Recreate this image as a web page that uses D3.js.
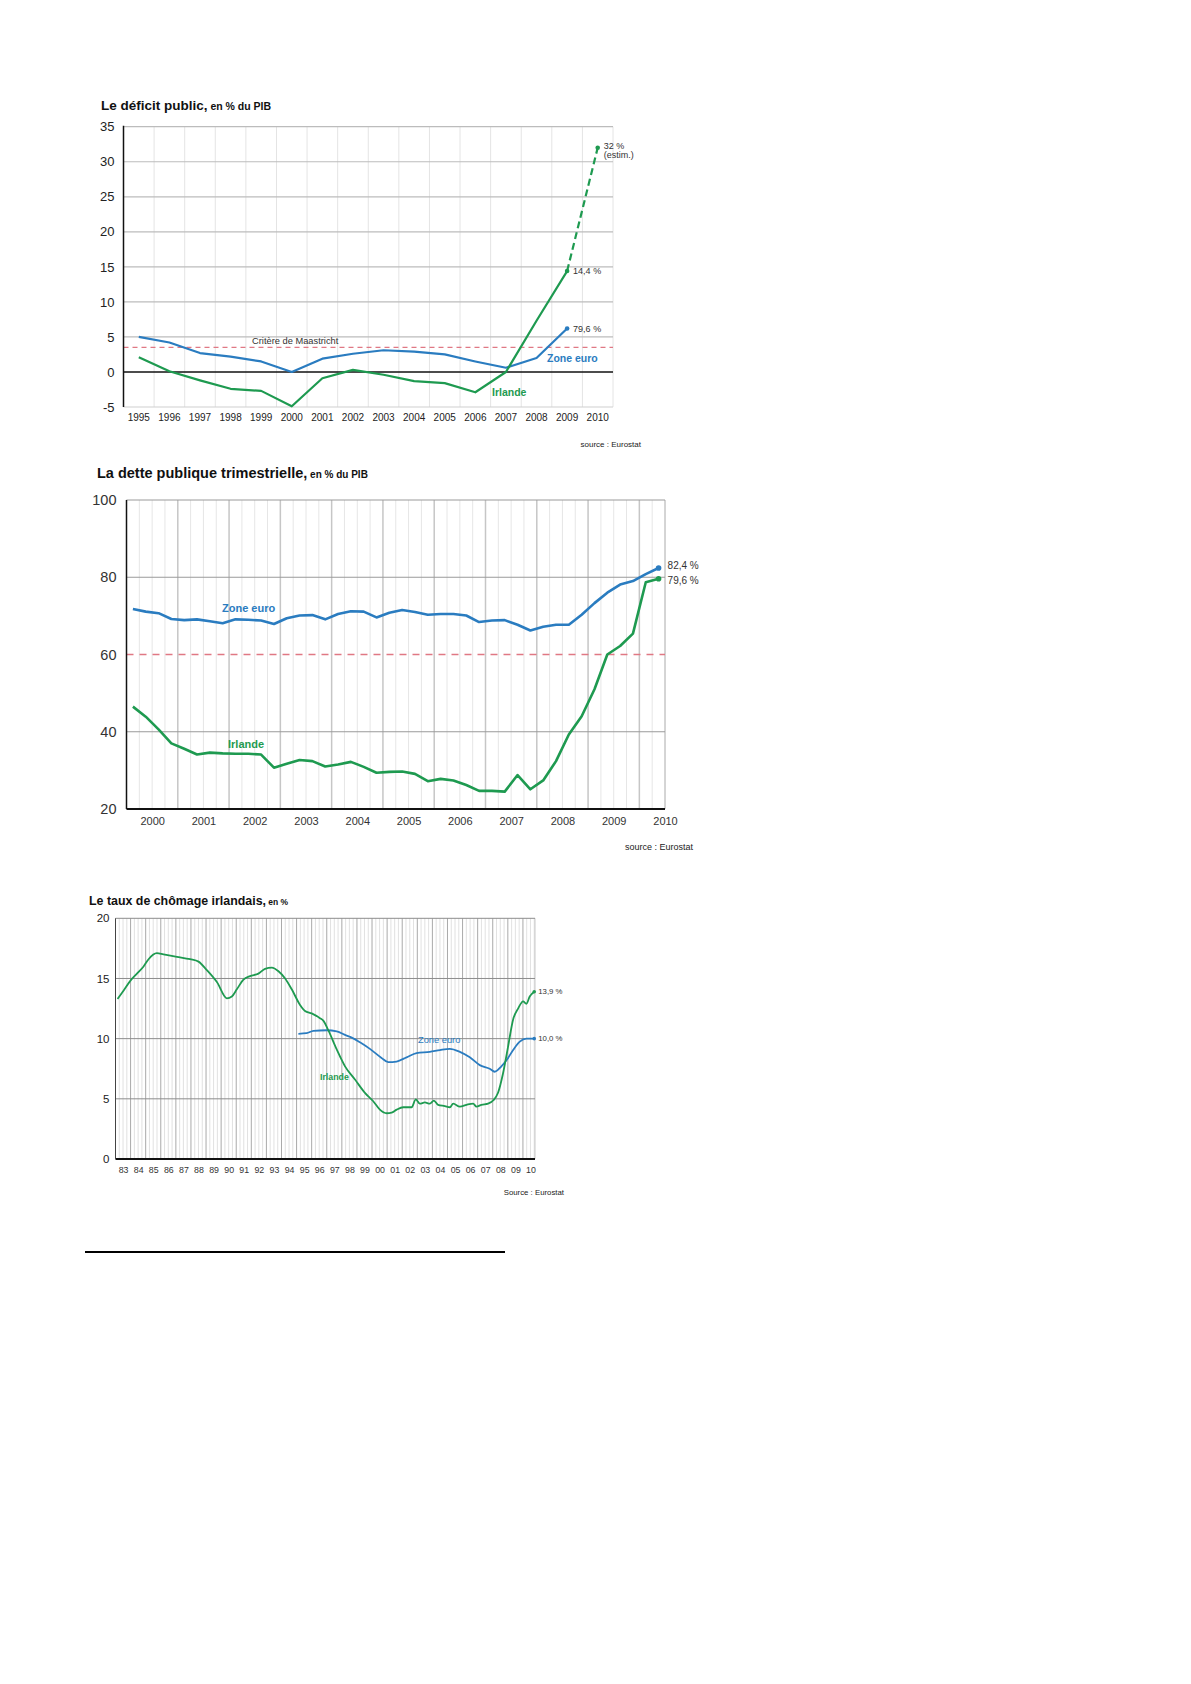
<!DOCTYPE html>
<html><head><meta charset="utf-8">
<script src="https://cdn.jsdelivr.net/npm/d3@7"></script>
<style>body{margin:0;background:#fff;} svg text{font-family:"Liberation Sans",Arial,sans-serif;}</style>
</head><body>
<script>
// ---------- DATA ----------
// Chart 1 : déficit public (% du PIB)
const defYears = [1995,1996,1997,1998,1999,2000,2001,2002,2003,2004,2005,2006,2007,2008,2009,2010];
const defZone  = [5.0,4.2,2.7,2.2,1.5,0.0,1.9,2.6,3.1,2.9,2.5,1.5,0.6,2.0,6.2];          // 1995-2009
const defIrl   = [2.1,0.1,-1.2,-2.4,-2.7,-4.9,-0.9,0.3,-0.4,-1.3,-1.6,-2.9,0.0,7.3,14.4]; // 1995-2009
const defIrlEstim = [[2009,14.4],[2010,32]];
const maastricht = 3.5;
const defYTicks = [-5,0,5,10,15,20,25,30,35];

// Chart 2 : dette publique trimestrielle (% du PIB), 2000T1 - 2010T2
const debtZone = [71.8,71.1,70.7,69.2,68.9,69.1,68.6,68.1,69.1,69.0,
                  68.8,67.9,69.4,70.1,70.2,69.1,70.5,71.2,71.1,69.6,
                  70.8,71.5,71.0,70.3,70.5,70.5,70.1,68.4,68.8,68.9,
                  67.7,66.2,67.2,67.7,67.7,70.3,73.3,76.0,78.1,79.0,
                  80.8,82.4];
const debtIrl  = [46.5,43.9,40.6,37.0,35.6,34.1,34.6,34.4,34.3,34.3,
                  34.1,30.7,31.7,32.7,32.4,31.0,31.5,32.2,30.9,29.4,
                  29.6,29.7,29.1,27.2,27.8,27.4,26.2,24.7,24.7,24.5,
                  28.8,25.1,27.4,32.4,39.3,44.0,51.0,60.0,62.2,65.4,
                  78.7,79.6];
const debtYears = [2000,2001,2002,2003,2004,2005,2006,2007,2008,2009,2010];
const debtYTicks = [20,40,60,80,100];
const debtCriterion = 60;

// Chart 3 : taux de chômage (%), [année décimale, valeur]
const unempIrl = [[1983.14,13.3],[1983.54,14.0],[1983.98,14.8],[1984.42,15.4],[1984.86,16.0],[1985.19,16.6],[1985.74,17.1],[1986.18,17.0],[1987.07,16.8],[1987.95,16.6],[1988.5,16.4],[1989.05,15.7],[1989.72,14.7],[1990.38,13.35],[1990.71,13.5],[1991.04,14.1],[1991.48,14.9],[1991.92,15.2],[1992.47,15.4],[1992.91,15.8],[1993.36,15.9],[1993.8,15.6],[1994.24,15.0],[1994.68,14.1],[1995.23,12.8],[1995.56,12.3],[1996.0,12.1],[1996.55,11.7],[1996.77,11.5],[1997.1,10.7],[1997.66,9.1],[1998.21,7.7],[1998.87,6.6],[1999.53,5.5],[2000.08,4.8],[2000.52,4.1],[2000.97,3.8],[2001.3,3.85],[2001.63,4.1],[2002.07,4.3],[2002.62,4.3],[2002.9,4.95],[2003.17,4.6],[2003.5,4.7],[2003.83,4.6],[2004.1,4.85],[2004.38,4.5],[2004.83,4.4],[2005.16,4.3],[2005.38,4.6],[2005.82,4.35],[2006.26,4.5],[2006.7,4.6],[2006.92,4.35],[2007.25,4.5],[2007.69,4.6],[2008.06,4.9],[2008.35,5.5],[2008.68,7.1],[2009.01,9.3],[2009.35,11.6],[2009.68,12.5],[2010.01,13.1],[2010.23,12.9],[2010.45,13.5],[2010.75,13.9]];
const unempZone = [[1995.12,10.4],[1995.67,10.45],[1996.11,10.65],[1997.0,10.7],[1997.66,10.6],[1998.32,10.25],[1998.55,10.15],[1999.2,9.7],[1999.86,9.15],[2000.63,8.4],[2001.07,8.05],[2001.63,8.1],[2002.29,8.45],[2002.95,8.8],[2003.83,8.9],[2004.5,9.05],[2005.16,9.15],[2005.82,8.9],[2006.48,8.45],[2007.14,7.8],[2007.8,7.5],[2008.13,7.25],[2008.57,7.7],[2008.91,8.2],[2009.35,9.05],[2009.79,9.75],[2010.23,10.0],[2010.75,10.0]];
const unempYears = d3.range(1983, 2011);
const unempYLabels = unempYears.map(y => String(y % 100).padStart(2, "0"));
const unempYTicks = [0,5,10,15,20];

// ---------- STYLE ----------
const GREEN = "#1e9a50", BLUE = "#2a7cc0", RED = "#e07884";

const svg = d3.select("body").append("svg").attr("width",1191).attr("height",1684);

function title(g, x, y, big, small, bs, ss){
  const t = g.append("text").attr("x",x).attr("y",y).attr("font-weight","bold").attr("fill","#111");
  t.append("tspan").attr("font-size",bs).text(big);
  t.append("tspan").attr("font-size",ss).text(" " + small);
}
function hline(g, x0, x1, y, stroke, w, dash){
  const l = g.append("line").attr("x1",x0).attr("x2",x1).attr("y1",y).attr("y2",y)
    .attr("stroke",stroke).attr("stroke-width",w);
  if (dash) l.attr("stroke-dasharray",dash);
  return l;
}
function vline(g, x, y0, y1, stroke, w){
  g.append("line").attr("x1",x).attr("x2",x).attr("y1",y0).attr("y2",y1)
    .attr("stroke",stroke).attr("stroke-width",w);
}
function annotator(g){
  return (tx, ty, s, fs, col, bold, anchor) => g.append("text").attr("x",tx).attr("y",ty)
    .attr("font-size",fs).attr("fill",col).attr("font-weight",bold?"bold":"normal")
    .attr("text-anchor",anchor||"start").text(s);
}
function styleAxisText(sel, fs, col){
  sel.selectAll("text").attr("font-size",fs).attr("fill",col)
    .attr("font-family","Liberation Sans, Arial, sans-serif");
}

// ================= CHART 1 =================
{
  const g = svg.append("g");
  const x = d3.scaleBand().domain(defYears).range([123.5, 613]);
  const y = d3.scaleLinear().domain([-5,35]).range([407,126.7]);
  const cx = yr => x(yr) + x.bandwidth()/2;
  title(g, 101, 110, "Le déficit public,", "en % du PIB", "13.5px", "10.5px");
  defYears.slice(1).forEach(yr => vline(g, x(yr), y(35), y(-5), "#e4e4e4", 1));
  vline(g, x.range()[1], y(35), y(-5), "#e4e4e4", 1);
  defYTicks.forEach(t => {
    if (t === 0) return;
    hline(g, x.range()[0], x.range()[1], y(t), t === -5 ? "#cfcfcf" : "#bcbcbc", 1.2);
  });
  hline(g, x.range()[0], x.range()[1], y(maastricht), RED, 1.3, "5,4");
  hline(g, x.range()[0], x.range()[1], y(0), "#111", 1.4);
  vline(g, x.range()[0], y(35)-1, y(-5), "#111", 1.5);
  const ya = g.append("g").attr("transform",`translate(${x.range()[0]-6},0)`)
    .call(d3.axisLeft(y).tickValues(defYTicks).tickSize(0).tickFormat(d => String(d)));
  ya.select(".domain").remove();
  styleAxisText(ya, "13px", "#222");
  const xa = g.append("g").attr("transform",`translate(0,${y(-5)+4})`)
    .call(d3.axisBottom(x).tickSize(0));
  xa.select(".domain").remove();
  styleAxisText(xa, "10px", "#222");
  const line = d3.line().x(d => cx(d[0])).y(d => y(d[1]));
  g.append("path").attr("d", line(defZone.map((v,i)=>[defYears[i],v])))
    .attr("fill","none").attr("stroke",BLUE).attr("stroke-width",2.2).attr("stroke-linejoin","round");
  g.append("path").attr("d", line(defIrl.map((v,i)=>[defYears[i],v])))
    .attr("fill","none").attr("stroke",GREEN).attr("stroke-width",2.2).attr("stroke-linejoin","round");
  g.append("path").attr("d", line(defIrlEstim))
    .attr("fill","none").attr("stroke",GREEN).attr("stroke-width",2.2).attr("stroke-dasharray","7,4");
  [[2009, defZone[14], BLUE],[2009, defIrl[14], GREEN],[2010, 32, GREEN]].forEach(d =>
    g.append("circle").attr("cx",cx(d[0])).attr("cy",y(d[1])).attr("r",2.3).attr("fill",d[2]));
  const ann = annotator(g);
  ann(cx(2009)+6, y(6.2)+3, "79,6 %", "9px", "#333");
  ann(cx(2009)+6, y(14.4)+3, "14,4 %", "9px", "#333");
  ann(cx(2010)+6, y(32)+1, "32 %", "9px", "#333");
  ann(cx(2010)+6, y(32)+10, "(estim.)", "9px", "#333");
  ann(252, y(maastricht)-3, "Critère de Maastricht", "9.3px", "#333");
  ann(547, y(1.4), "Zone euro", "10.5px", BLUE, true);
  ann(492, y(-3.4), "Irlande", "10.5px", GREEN, true);
  ann(641, 447, "source : Eurostat", "8px", "#222", false, "end");
}

// ================= CHART 2 =================
{
  const g = svg.append("g");
  const x = d3.scaleLinear().domain([2000, 2010.5]).range([126.5, 665]);
  const y = d3.scaleLinear().domain([20,100]).range([809,500]);
  const qx = i => x(2000 + (i + 0.5)/4);
  title(g, 97, 478, "La dette publique trimestrielle,", "en % du PIB", "14.5px", "10px");
  d3.range(1, 42).forEach(i => {
    if (i % 4 === 0) return;
    vline(g, x(2000 + i/4), y(100), y(20), "#e6e6e6", 1);
  });
  debtYears.slice(1).forEach(yr => vline(g, x(yr), y(100), y(20), "#c6c6c6", 1.5));
  vline(g, x(2010.5), y(100), y(20), "#aaa", 1);
  [40,80,100].forEach(t => hline(g, x(2000), x(2010.5), y(t), "#9a9a9a", 1));
  hline(g, x(2000), x(2010.5), y(debtCriterion), RED, 1.4, "7,6");
  hline(g, x(2000), x(2010.5), y(20), "#111", 1.8);
  vline(g, x(2000), y(100), y(20), "#111", 1.5);
  const ya = g.append("g").attr("transform",`translate(${x(2000)-7},0)`)
    .call(d3.axisLeft(y).tickValues(debtYTicks).tickSize(0).tickFormat(d => String(d)));
  ya.select(".domain").remove();
  styleAxisText(ya, "14.5px", "#333");
  const xa = g.append("g").attr("transform",`translate(0,${y(20)+5})`)
    .call(d3.axisBottom(x).tickValues(debtYears.map(d=>d+0.5)).tickSize(0).tickFormat(d => String(Math.floor(d))));
  xa.select(".domain").remove();
  styleAxisText(xa, "11px", "#333");
  const line = d3.line().x((d,i) => qx(i)).y(d => y(d));
  g.append("path").attr("d", line(debtZone)).attr("fill","none").attr("stroke",BLUE)
    .attr("stroke-width",2.6).attr("stroke-linejoin","round");
  g.append("path").attr("d", line(debtIrl)).attr("fill","none").attr("stroke",GREEN)
    .attr("stroke-width",2.6).attr("stroke-linejoin","round");
  const last = debtZone.length - 1;
  g.append("circle").attr("cx",qx(last)).attr("cy",y(debtZone[last])).attr("r",2.8).attr("fill",BLUE);
  g.append("circle").attr("cx",qx(last)).attr("cy",y(debtIrl[last])).attr("r",2.8).attr("fill",GREEN);
  const ann = annotator(g);
  ann(qx(last)+9, y(debtZone[last])+1, "82,4 %", "10px", "#333");
  ann(qx(last)+9, y(debtIrl[last])+5, "79,6 %", "10px", "#333");
  ann(222, 612, "Zone euro", "11px", BLUE, true);
  ann(228, 748, "Irlande", "11px", GREEN, true);
  ann(693, 850, "source : Eurostat", "9px", "#222", false, "end");
}

// ================= CHART 3 =================
{
  const g = svg.append("g");
  const x = d3.scaleLinear().domain([1983, 2010.8]).range([115.5, 535]);
  const y = d3.scaleLinear().domain([0,20]).range([1159,918.3]);
  title(g, 89, 905, "Le taux de chômage irlandais,", "en %", "12.4px", "8.5px");
  d3.range(1, 112).forEach(i => {
    const t = 1983 + i/4;
    if (t >= 2010.8) return;
    if (i % 4 === 0) vline(g, x(t), y(20), y(0), "#a9a9a9", 1);
    else vline(g, x(t), y(20), y(0), "#d9d9d9", 0.8);
  });
  vline(g, x(2010.8), y(20), y(0), "#bbb", 0.8);
  [5,10,15,20].forEach(t => hline(g, x(1983), x(2010.8), y(t), "#8c8c8c", 1));
  hline(g, x(1983), x(2010.8), y(0), "#111", 2);
  vline(g, x(1983), y(20), y(0), "#444", 1);
  const ya = g.append("g").attr("transform",`translate(${x(1983)-3},0)`)
    .call(d3.axisLeft(y).tickValues(unempYTicks).tickSize(0).tickFormat(d => String(d)));
  ya.select(".domain").remove();
  styleAxisText(ya, "11.5px", "#222");
  const xa = g.append("g").attr("transform",`translate(0,${y(0)+5})`)
    .call(d3.axisBottom(x).tickValues(unempYears.map(d=>d+0.5)).tickSize(0)
      .tickFormat((d,i) => unempYLabels[i]));
  xa.select(".domain").remove();
  styleAxisText(xa, "8.8px", "#333");
  const line = d3.line().curve(d3.curveMonotoneX).x(d => x(d[0])).y(d => y(d[1]));
  g.append("path").attr("d", line(unempZone)).attr("fill","none").attr("stroke",BLUE).attr("stroke-width",1.8);
  g.append("path").attr("d", line(unempIrl)).attr("fill","none").attr("stroke",GREEN).attr("stroke-width",1.8);
  const lz = unempZone[unempZone.length-1], li = unempIrl[unempIrl.length-1];
  g.append("circle").attr("cx",x(lz[0])).attr("cy",y(lz[1])).attr("r",1.8).attr("fill",BLUE);
  g.append("circle").attr("cx",x(li[0])).attr("cy",y(li[1])).attr("r",1.8).attr("fill",GREEN);
  const ann = annotator(g);
  ann(x(li[0])+4, y(li[1])+2.5, "13,9 %", "7.8px", "#333");
  ann(x(lz[0])+4, y(lz[1])+2.5, "10,0 %", "7.8px", "#333");
  ann(418, 1043, "Zone euro", "9.3px", BLUE);
  ann(320, 1080, "Irlande", "8.8px", GREEN, true);
  ann(564, 1195, "Source : Eurostat", "7.8px", "#222", false, "end");
}

// separator line
svg.append("line").attr("x1",85).attr("x2",505).attr("y1",1252).attr("y2",1252)
  .attr("stroke","#000").attr("stroke-width",2);
</script>
</body></html>
